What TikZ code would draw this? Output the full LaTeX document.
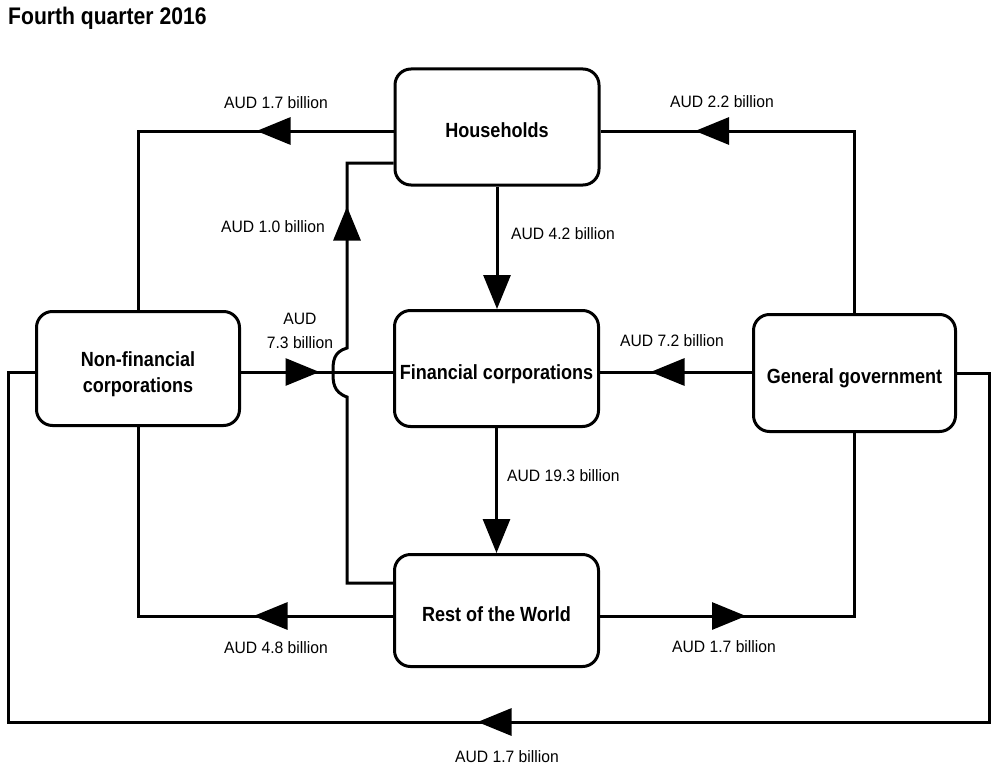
\documentclass[tikz,border=0pt]{standalone}
\usepackage{fontspec}
\setmainfont{Liberation Sans}
\newfontfamily\lblfont{Liberation Sans}[FakeStretch=0.95]
\newfontfamily\boxfont{Liberation Sans}[FakeStretch=0.88]
\usetikzlibrary{arrows.meta,decorations.markings}
\tikzset{
  box/.style={draw, line width=3pt, rounded corners=16pt, align=center, inner sep=2pt,
    text height=26pt, text depth=5pt,
    font=\boxfont\bfseries\fontsize{20.5}{26}\selectfont},
  lbl/.style={font=\lblfont\fontsize{16.5}{24}\selectfont, inner sep=0pt},
  ttl/.style={font=\boxfont\bfseries\fontsize{24}{28}\selectfont, inner sep=0pt},
  conn/.style={line width=3pt},
  endarr/.style={conn, -{Triangle[length=34pt,width=27pt]}},
  marr/.style={conn, postaction={decorate},
    decoration={markings, mark=at position #1 with {\arrow{Triangle[length=34pt,width=27pt]}}}},
}
\begin{document}
\begin{tikzpicture}[x=1pt,y=-1pt]
\useasboundingbox (0,0) rectangle (1000,765);

% title
\node[ttl, anchor=base west] (title) at (8,25) {Fourth quarter 2016};

% boxes
\node[box, minimum width=204pt, minimum height=116pt] (H)   at (497,127)   {Households};
\node[box, minimum width=204pt, minimum height=116pt] (FC)  at (496.5,368.5) {Financial corporations};
\node[box, minimum width=204pt, minimum height=112pt] (RoW) at (496.5,610.5) {Rest of the World};
\node[box, minimum width=203pt, minimum height=114pt, text height=52pt] (NFC) at (138,368.5) {Non-financial\\corporations};
\node[box, minimum width=202pt, minimum height=117pt] (GG)  at (854.5,373) {General government};

% helper coordinates
\coordinate (hl) at (138,131);
\coordinate (hr) at (855,131);
\coordinate (jl) at (347,163);
\coordinate (jb) at (347,583);
\coordinate (hopB) at (347,397);
\coordinate (hopM) at (333,372);
\coordinate (hopT) at (347,348);
\coordinate (rl) at (138,616);
\coordinate (rr) at (855,616);
\coordinate (y372) at (0,372);
\coordinate (gr1) at (989,373);
\coordinate (gr2) at (989,722);
\coordinate (gl2) at (8,722);
\coordinate (gl1) at (8,372);

% connectors
\draw[marr=137pt] (H.west |- hl) -- (NFC.north |- hl) -- (NFC.north);
\draw[marr=341.5pt] (GG.north) -- (GG.north |- hr) -- (H.east |- hr);
\draw[endarr] (H.south) -- (H.south |- FC.north);
\draw[marr=-90pt] (RoW.west |- jb) -- (jb) -- (hopB)
   .. controls (333,392) and (333,382) .. (hopM)
   .. controls (333,362) and (333,352) .. (hopT) -- (jl) -- (H.west |- jl);
\draw[marr=78.5pt] (NFC.east |- y372) -- (FC.west |- y372);
\draw[marr=101.5pt] (GG.west |- y372) -- (FC.east |- y372);
\draw[endarr] (FC.south) -- (FC.south |- RoW.north);
\draw[marr=139.5pt] (RoW.west |- rl) -- (NFC.south |- rl) -- (NFC.south);
\draw[marr=146pt] (RoW.east |- rr) -- (GG.south |- rr) -- (GG.south);
\draw[marr=892.5pt] (GG.east |- gr1) -- (gr1) -- (gr2) -- (gl2) -- (gl1) -- (NFC.west |- gl1);

% labels
\node[lbl, anchor=base] (l1) at (276,109) {AUD 1.7 billion};
\node[lbl, anchor=base] (l2) at (722,107) {AUD 2.2 billion};
\node[lbl, anchor=base west] (l3) at (511,239) {AUD 4.2 billion};
\node[lbl, anchor=base] (l4) at (273,232) {AUD 1.0 billion};
\node[lbl, anchor=base, align=center] (l5) at (300,348) {AUD\\7.3 billion};
\node[lbl, anchor=base] (l6) at (672,346) {AUD 7.2 billion};
\node[lbl, anchor=base west] (l7) at (507,481) {AUD 19.3 billion};
\node[lbl, anchor=base] (l8) at (276,653) {AUD 4.8 billion};
\node[lbl, anchor=base] (l9) at (724,652) {AUD 1.7 billion};
\node[lbl, anchor=base] (l10) at (507,762) {AUD 1.7 billion};
\end{tikzpicture}
\end{document}
